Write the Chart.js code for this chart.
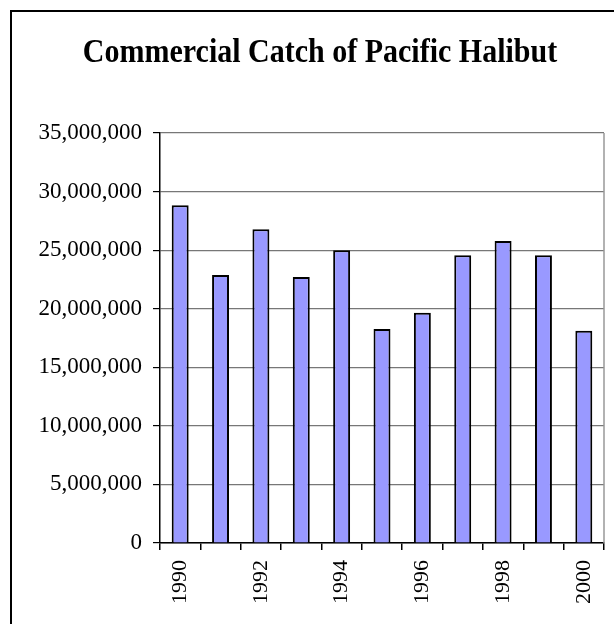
<!DOCTYPE html>
<html>
<head>
<meta charset="utf-8">
<script src="https://cdn.jsdelivr.net/npm/chart.js@4/dist/chart.umd.min.js"></script>
<style>
  html, body { margin: 0; padding: 0; background: #fff; }
  #wrap { width: 614px; height: 624px; position: relative; }
</style>
</head>
<body>
<div id="wrap"><canvas id="c" width="614" height="624"></canvas></div>
<script>
const chartTitle = "Commercial Catch of Pacific Halibut";
const years = ["1990","1991","1992","1993","1994","1995","1996","1997","1998","1999","2000"];
const catchLbs = [28840000, 22870000, 26790000, 22700000, 25000000, 18260000, 19650000, 24570000, 25770000, 24570000, 18110000];
const yTicks = [0, 5000000, 10000000, 15000000, 20000000, 25000000, 30000000, 35000000];

const framePlugin = {
  id: 'frame',
  beforeDraw(chart) {
    const ctx = chart.ctx;
    ctx.save();
    ctx.fillStyle = '#fff';
    ctx.fillRect(0, 0, chart.width, chart.height);
    ctx.strokeStyle = '#000';
    ctx.lineWidth = 2;
    ctx.strokeRect(11, 11, 700, 700);
    ctx.restore();
  },
  afterDraw(chart) {
    const ctx = chart.ctx;
    const a = chart.chartArea;
    ctx.save();
    ctx.strokeStyle = '#999';
    ctx.lineWidth = 1.5;
    ctx.beginPath();
    ctx.moveTo(a.right, a.top);
    ctx.lineTo(a.right, a.bottom);
    ctx.stroke();
    ctx.fillStyle = '#000';
    ctx.font = 'bold 30px "Liberation Serif", "Times New Roman", serif';
    ctx.textAlign = 'center';
    ctx.textBaseline = 'alphabetic';
    ctx.translate(320, 62);
    ctx.scale(1, 1.1);
    ctx.fillText(chartTitle, 0, 0);
    ctx.restore();
  }
};

new Chart(document.getElementById('c'), {
  type: 'bar',
  data: {
    labels: years,
    datasets: [{
      data: catchLbs,
      backgroundColor: '#9999FF',
      borderColor: '#000',
      borderWidth: 2,
      barPercentage: 0.42,
      categoryPercentage: 1.0
    }]
  },
  options: {
    responsive: false,
    animation: false,
    devicePixelRatio: 1,
    layout: { padding: { top: 133, right: 10, left: 0, bottom: 0 } },
    plugins: {
      legend: { display: false },
      title: { display: false },
      tooltip: { enabled: false }
    },
    scales: {
      x: {
        grid: { offset: true, drawOnChartArea: false, drawTicks: true, tickLength: 7, color: '#000', tickColor: '#000', lineWidth: 1.5 },
        border: { color: '#000', width: 1.5 },
        ticks: {
          autoSkip: false,
          minRotation: 90,
          maxRotation: 90,
          padding: 10,
          color: '#000',
          font: { family: '"Liberation Serif", "Times New Roman", serif', size: 22 },
          callback: function(v, i) { return i % 2 === 0 ? years[i] : ''; }
        },
        afterFit(s) { s.height = 81; s.paddingLeft = 0; s.paddingRight = 0; }
      },
      y: {
        min: 0,
        max: 35000000,
        afterBuildTicks(s) { s.ticks = yTicks.map(v => ({ value: v })); },
        grid: { color: '#777', tickColor: '#000', lineWidth: 1.2, tickLength: 7 },
        border: { color: '#000', width: 1.5 },
        ticks: {
          padding: 11,
          color: '#000',
          font: { family: '"Liberation Serif", "Times New Roman", serif', size: 23 },
          callback: function(v) { return Number(v).toLocaleString('en-US'); }
        },
        afterFit(s) { s.width = 160; s.paddingTop = 0; s.paddingBottom = 0; }
      }
    }
  },
  plugins: [framePlugin]
});
</script>
</body>
</html>
